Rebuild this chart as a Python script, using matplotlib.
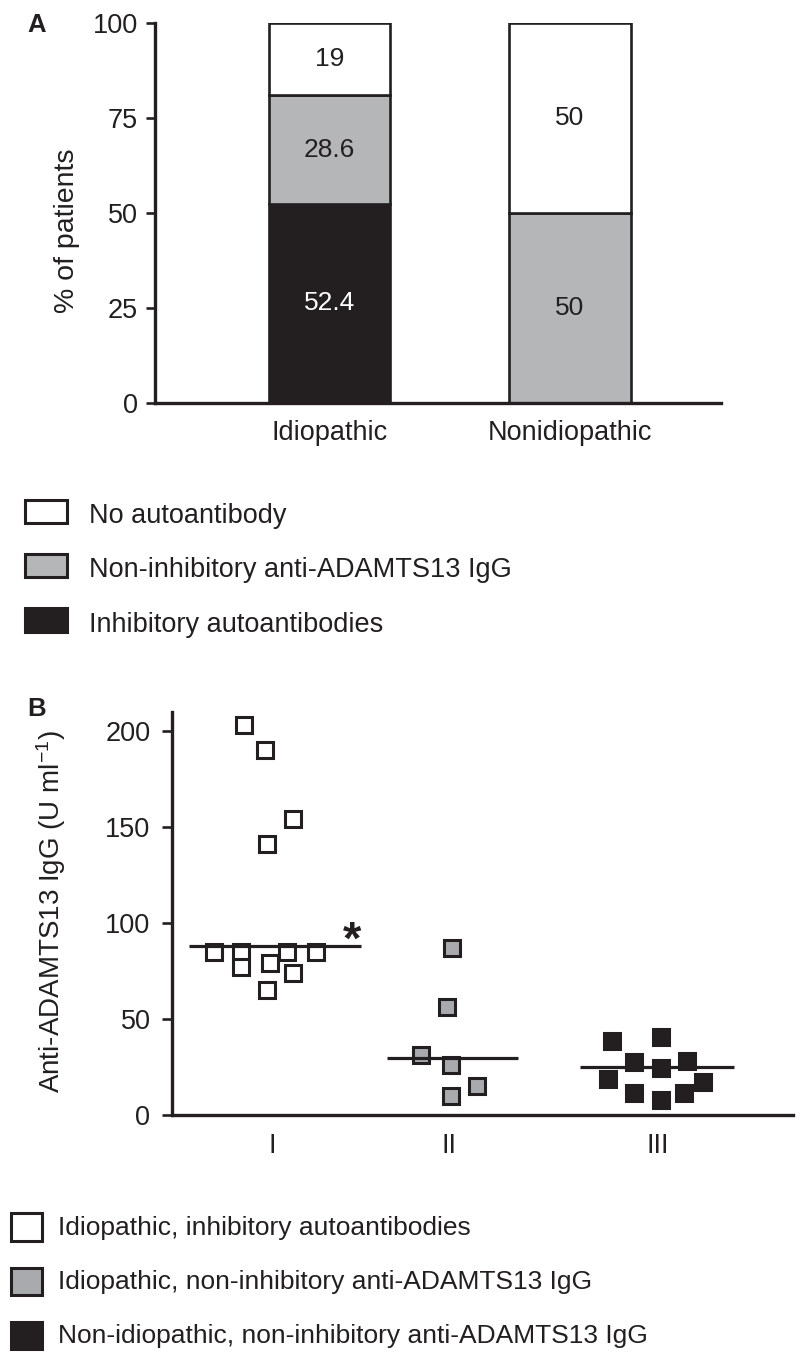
import matplotlib
matplotlib.use('Agg')
from matplotlib import pyplot as plt
from matplotlib.patches import Rectangle
import numpy as np

plt.rcParams['font.family'] = ['Liberation Sans', 'DejaVu Sans']
plt.rcParams['mathtext.fontset'] = 'custom'
plt.rcParams['mathtext.rm'] = 'Liberation Sans'
plt.rcParams['mathtext.it'] = 'Liberation Sans:italic'
plt.rcParams['mathtext.bf'] = 'Liberation Sans:bold'

INK = '#231f20'
GREY_A = '#b5b6b8'
GREY_B = '#a9aaad'

# ---- panel A data (% of patients) ----
groups_a = ['Idiopathic', 'Nonidiopathic']
inhibitory = [52.4, 0]
non_inhibitory = [28.6, 50]
no_autoantibody = [19, 50]
legend_a = ['No autoantibody', 'Non-inhibitory anti-ADAMTS13 IgG', 'Inhibitory autoantibodies']

# ---- panel B data (anti-ADAMTS13 IgG, U/ml) ----
groups_b = ['I', 'II', 'III']
igg_I = [203, 190, 154, 141, 85, 85, 85, 85, 77, 79, 74, 65]
jit_I = [-0.158, -0.040, 0.119, -0.028, -0.328, -0.177, 0.083, 0.249, -0.177, -0.011, 0.117, -0.030]
igg_II = [87, 56, 31, 26, 15, 10]
jit_II = [0.017, -0.011, -0.158, 0.010, 0.156, 0.010]
igg_III = [38.6, 40.4, 27.6, 24.3, 28, 18.5, 17, 11.5, 7.9, 11.5]
jit_III = [-0.262, 0.017, -0.134, 0.017, 0.162, -0.281, 0.256, -0.134, 0.017, 0.147]
medians_b = [88, 29.5, 25]
legend_b = ['Idiopathic, inhibitory autoantibodies',
            'Idiopathic, non-inhibitory anti-ADAMTS13 IgG',
            'Non-idiopathic, non-inhibitory anti-ADAMTS13 IgG']

W, H = 800, 1357
fig = plt.figure(figsize=(W / 100, H / 100), dpi=100)


def px_axes(x0, y0, x1, y1):
    return fig.add_axes([x0 / W, 1 - y1 / H, (x1 - x0) / W, (y1 - y0) / H])


def fig_box(x0, y0, x1, y1, fc):
    fig.add_artist(Rectangle((x0 / W, 1 - y1 / H), (x1 - x0) / W, (y1 - y0) / H,
                             transform=fig.transFigure, fc=fc, ec=INK, lw=2.2))


def style_axes(ax, tick_len, tick_pad, xpad):
    for s in ['top', 'right']:
        ax.spines[s].set_visible(False)
    for s in ['left', 'bottom']:
        ax.spines[s].set_linewidth(2.4)
        ax.spines[s].set_color(INK)
    ax.tick_params(axis='y', direction='out', length=tick_len, width=1.9, color=INK,
                   pad=tick_pad, labelsize=19.5, labelcolor=INK)
    ax.tick_params(axis='x', length=0, pad=xpad, labelsize=19.5, labelcolor=INK)


# ---------------- panel A ----------------
axA = px_axes(155, 23, 721, 403)
xa = np.arange(len(groups_a))
bw = 0.508
inh = np.array(inhibitory)
non = np.array(non_inhibitory)
noa = np.array(no_autoantibody)
segments = [(inh, 0, INK, 'white'), (non, inh, GREY_A, INK), (noa, inh + non, 'white', INK)]
for vals, bottom, fc, tc in segments:
    bars = axA.bar(xa, vals, bw, bottom=bottom, color=fc, edgecolor=INK, linewidth=1.9, zorder=2)
    labels = ['%g' % v if v > 0 else '' for v in vals]
    axA.bar_label(bars, labels=labels, label_type='center', fontsize=19, color=tc)

axA.set_xlim(-0.727, 1.631)
axA.set_ylim(0, 100)
axA.set_yticks([0, 25, 50, 75, 100])
axA.set_xticks(xa)
axA.set_xticklabels(groups_a)
style_axes(axA, 6.5, 6.0, 12)
axA.set_ylabel('% of patients', fontsize=20.5, color=INK)
axA.yaxis.set_label_coords(-0.1325, 0.453)

fig.text(37 / W, 1 - 25 / H, 'A', fontsize=18.5, fontweight='bold', ha='center', va='center', color=INK)

# legend A
rows_a = [(500, 523, 'white'), (554, 577, GREY_A), (608, 632, INK)]
for (y0, y1, fc), lab in zip(rows_a, legend_a):
    fig_box(25, y0, 67, y1, fc)
    fig.text(89 / W, 1 - y1 / H, lab, fontsize=19.5, ha='left', va='baseline', color=INK)

# ---------------- panel B ----------------
axB = px_axes(172, 711.8, 793, 1115)
xb = [1, 2, 3.18]
series = [(igg_I, jit_I, 'white'), (igg_II, jit_II, GREY_B), (igg_III, jit_III, INK)]
for pos, (vals, jit, fc) in zip(xb, series):
    axB.plot(pos + np.array(jit), vals, 's', ms=11.5, mfc=fc, mec=INK, mew=2.2,
             ls='none', zorder=2, clip_on=False)

span_left = [0.47, 0.35, 0.44]
span_right = [0.50, 0.39, 0.43]
for pos, m, sl, sr in zip(xb, medians_b, span_left, span_right):
    axB.plot([pos - sl, pos + sr], [m, m], color=INK, lw=2.3, zorder=3, solid_capstyle='butt')

axB.text(xb[0] + 0.452, 84, '*', fontsize=34, fontweight='bold', ha='center', va='baseline', color=INK)

axB.set_xlim(0.435, 3.943)
axB.set_ylim(0, 210)
axB.set_yticks([0, 50, 100, 150, 200])
axB.set_xticks(xb)
axB.set_xticklabels(groups_b)
style_axes(axB, 7.0, 8.5, 13)
axB.set_ylabel('Anti-ADAMTS13 IgG (U ml$^{\u22121}$)', fontsize=20, color=INK)
axB.yaxis.set_label_coords(-0.1675, 0.505)

fig.text(37 / W, 1 - 709 / H, 'B', fontsize=18.5, fontweight='bold', ha='center', va='center', color=INK)

# legend B
rows_b = [(1213, 1241, 'white'), (1267.5, 1295, GREY_B), (1321.5, 1349, INK)]
for (y0, y1, fc), lab in zip(rows_b, legend_b):
    fig_box(11, y0, 41.7, y1, fc)
    fig.text(58 / W, 1 - (y1 - 6) / H, lab, fontsize=19, ha='left', va='baseline', color=INK)

fig.savefig('out.png', dpi=100)
